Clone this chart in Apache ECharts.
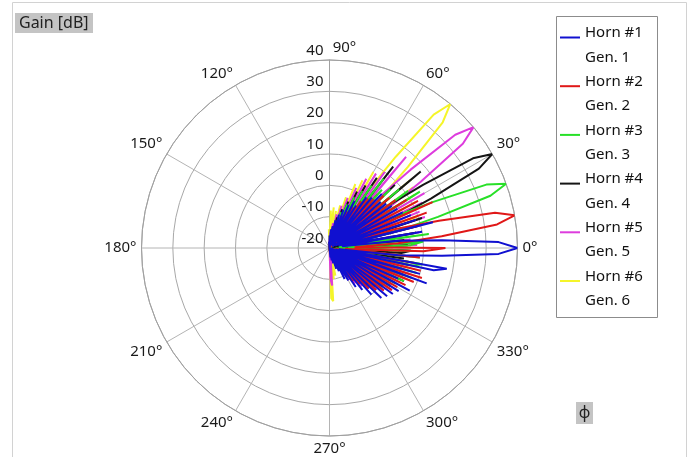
<!DOCTYPE html>
<html>
<head>
<meta charset="utf-8">
<script src="https://cdn.jsdelivr.net/npm/echarts@6/dist/echarts.min.js"></script>
<style>
  html, body { margin: 0; padding: 0; background: #fff; }
  #mainBox { width: 694px; height: 457px; }
</style>
</head>
<body>
<div id="mainBox"></div>
<script>
// 角度 phi (deg)
var phi = [-90, -88, -86, -84, -82, -80, -78, -76, -74, -72,
           -70, -68, -66, -64, -62, -60, -58, -56, -54, -52,
           -50, -48, -46, -44, -42, -40, -38, -36, -34, -32,
           -30, -28, -26, -24, -22, -20, -18, -16, -14, -12,
           -10, -8, -6, -4, -2, 0, 2, 4, 6, 8,
           10, 12, 14, 16, 18, 20, 22, 24, 26, 28,
           30, 32, 34, 36, 38, 40, 42, 44, 46, 48,
           50, 52, 54, 56, 58, 60, 62, 64, 66, 68,
           70, 72, 74, 76, 78, 80, 82, 84, 86, 88,
           90, 92, 94, 96, 98, 100];

// gain [dB] of each horn
var horn1 = [-20, -20, -20, -17, -20, -16, -20, -15, -19, -13,
             -20, -12, -19, -9, -20, -8, -18, -5, -20, -3,
             -19, 0, -17, 3, -20, 4, -16, 5, -19, 6,
             -18, 9, -15, 4, -20, 13, -12, 10, -18, 14,
             18, -17, 2, 16, 34, 40, 34, 16, 2, -16,
             10, -14, 14, -17, 9, -15, 8, -18, 6, -14,
             5, -19, 4, -13, 3, -17, 2, -14, 4, -18,
             1, -15, 0, -19, -4, -13, -3, -18, -5, -16,
             -7, -19, -9, -17, -11, -20, -13, -18, -14, -20,
             -16, -20, -18, -20, -20, -20];
var horn2 = [-20, -20, -19, -20, -18, -20, -17, -20, -16, -19,
             -15, -20, -13, -18, -11, -20, -9, -17, -7, -19,
             -5, -18, -2, -20, 0, -16, 2, -19, 4, -15,
             5, -20, 7, -17, 9, -14, 11, -19, 10, -16,
             8, -18, 9, -15, 10, 17, -12, 2, 16, 34,
             40, 34, 16, 2, -16, 13, -15, 16, -16, 12,
             -17, 9, -14, 6, -19, 5, -15, 4, -18, 1,
             -16, 0, -20, -2, -17, -5, -19, -7, -20, -9,
             -18, -11, -20, -13, -19, -15, -20, -17, -20, -18,
             -20, -19, -20, -20, -20, -20];
var horn3 = [-20, -20, -20, -19, -20, -19, -20, -18, -20, -17,
             -20, -16, -19, -14, -20, -12, -18, -10, -20, -8,
             -19, -6, -17, -4, -20, -1, -16, 1, -19, 3,
             -15, 4, -20, 6, -17, 8, -13, 9, -19, 7,
             10, -16, 9, -18, 7, -14, 6, 10, -17, 12,
             -15, -16, 2, 16, 34, 40, 34, 16, 2, -16,
             -12, 14, -13, 11, -19, 9, -15, 7, -20, 5,
             -17, 8, -19, 4, -16, 1, -20, -2, -18, -5,
             -20, -8, -19, -11, -20, -14, -20, -16, -20, -19,
             -20, -20, -20, -20, -20, -20];
var horn4 = [-20, -20, -20, -20, -19, -20, -19, -20, -19, -17,
             -20, -16, -19, -14, -20, -12, -19, -10, -20, -8,
             -18, -6, -20, -3, -17, -1, -19, 1, -16, 3,
             -20, 4, -15, 6, -18, 5, -14, 4, -19, 6,
             -16, 4, -20, 3, 6, -15, 5, -18, 4, -14,
             8, -17, 9, -13, 11, -19, -10, 2, 16, 34,
             40, 34, 16, 2, -14, 18, -16, 9, -19, 3,
             -14, 13, -18, 7, -20, 3, -17, 0, -20, -4,
             -18, -7, -20, -10, -19, -13, -20, -16, -20, -18,
             -20, -19, -20, -20, -20, -20];
var horn5 = [-20, -10, -8, -16, -20, -15, -20, -16, -20, -17,
             -14, -20, -12, -18, -10, -20, -8, -17, -6, -19,
             -4, -18, -2, -20, 0, -16, 2, -19, 4, -15,
             3, -20, 5, -17, 6, -14, 7, -19, 5, -16,
             2, -18, 6, -15, 7, -20, 8, -14, 6, -19,
             9, -16, 10, -18, 12, -13, 11, -19, 13, -15,
             15, -18, 2, 16, 34, 40, 34, 16, 2, -15,
             18, -15, 10, -19, 8, -14, 5, -20, 1, -17,
             -3, -20, -6, -18, -9, -20, -12, -19, -15, -20,
             -17, -20, -19, -20, -20, -20];
var horn6 = [-20, -4, -3, -15, -10, -20, -11, -18, -14, -20,
             -15, -19, -13, -20, -11, -17, -9, -20, -7, -18,
             -5, -20, -3, -16, -1, -19, 1, -15, 3, -20,
             2, -17, 4, -14, 5, -19, 3, -16, 6, -20,
             1, -15, 5, -18, 6, -14, 7, -20, 5, -17,
             8, -19, 9, -15, 6, 10, -16, 8, -20, 11,
             -17, 12, -14, 13, -19, 14, -15, 2, 16, 34,
             40, 34, 16, 2, -14, 8, -16, 4, -17, 2,
             -19, -3, -16, -6, -20, -8, -18, -7, -14, -8,
             -18, -14, -20, -18, -20, -20];

var hornNames = ['Horn #1', 'Horn #2', 'Horn #3', 'Horn #4', 'Horn #5', 'Horn #6'];
var genNames = ['Gen. 1', 'Gen. 2', 'Gen. 3', 'Gen. 4', 'Gen. 5', 'Gen. 6'];
var colors = ['#1010d0', '#e01818', '#28e028', '#151515', '#dd3cdd', '#f5f52a'];
var gains = [horn1, horn2, horn3, horn4, horn5, horn6];

var FONT = '"Noto Sans", "DejaVu Sans", sans-serif';

var myChart = echarts.init(document.getElementById('mainBox'));

// 每条曲线: [radius, angle]
var series = gains.map(function (g, i) {
    return {
        name: hornNames[i],
        type: 'line',
        coordinateSystem: 'polar',
        symbol: 'none',
        z: 10 - i,
        lineStyle: { color: colors[i], width: 2 },
        data: phi.map(function (a, k) { return [g[k], a]; })
    };
});

// 图例 (自己画的)
var legendItems = [{
    type: 'rect',
    shape: { x: 556.5, y: 16.5, width: 101, height: 301 },
    style: { fill: '#fff', stroke: '#8c8c8c', lineWidth: 1 }
}];
hornNames.forEach(function (name, i) {
    var y0 = 33 + i * 48.7;
    legendItems.push({
        type: 'line',
        shape: { x1: 560, y1: y0 + 4.5, x2: 580, y2: y0 + 4.5 },
        style: { stroke: colors[i], lineWidth: 2 }
    });
    legendItems.push({
        type: 'text', x: 585, y: y0,
        style: { text: name, fill: '#111', font: '15px ' + FONT, verticalAlign: 'middle' }
    });
    legendItems.push({
        type: 'text', x: 585, y: y0 + 24.3,
        style: { text: genNames[i], fill: '#111', font: '15px ' + FONT, verticalAlign: 'middle' }
    });
});

var option = {
    animation: false,
    backgroundColor: '#fff',
    polar: {
        center: [329.5, 248],
        radius: 188
    },
    angleAxis: {
        type: 'value',
        min: -270,
        max: 90,
        interval: 30,
        startAngle: 90,
        clockwise: false,
        axisLine: { lineStyle: { color: '#a0a0a0', width: 1 } },
        axisTick: { show: false },
        splitLine: { lineStyle: { color: '#b4b4b4', width: 1 } },
        axisLabel: {
            margin: 5,
            color: '#1a1a1a',
            fontSize: 15,
            fontFamily: FONT,
            formatter: function (v) {
                var d = ((v % 360) + 360) % 360;
                if (d === 90) return '{s|90°}';
                return d + '°';
            },
            rich: {
                s: { fontSize: 15, fontFamily: FONT, color: '#1a1a1a', padding: [0, 0, 0, 30] }
            }
        }
    },
    radiusAxis: {
        type: 'value',
        min: -20,
        max: 40,
        interval: 10,
        axisLine: { lineStyle: { color: '#a0a0a0', width: 1 } },
        axisTick: { show: false },
        splitLine: { lineStyle: { color: '#a8a8a8', width: 1 } },
        axisLabel: {
            margin: 6,
            color: '#1a1a1a',
            fontSize: 15,
            fontFamily: FONT,
            verticalAlign: 'bottom',
            padding: [0, 0, 2, 0]
        }
    },
    graphic: [
        {
            type: 'rect',
            shape: { x: 12.5, y: 2.5, width: 674, height: 470 },
            style: { fill: 'none', stroke: '#d2d2d2', lineWidth: 1 },
            z: -10
        },
        {
            type: 'rect',
            shape: { x: 15, y: 13, width: 78, height: 20 },
            style: { fill: '#c4c4c4' }
        },
        {
            type: 'text', x: 19, y: 23,
            style: { text: 'Gain [dB]', fill: '#222', font: '16px ' + FONT, verticalAlign: 'middle' }
        },
        {
            type: 'rect',
            shape: { x: 576, y: 402, width: 17, height: 22 },
            style: { fill: '#c4c4c4' }
        },
        {
            type: 'text', x: 584.5, y: 413,
            style: { text: 'ϕ', fill: '#222', font: '16px ' + FONT, align: 'center', verticalAlign: 'middle' }
        },
        {
            type: 'group',
            children: legendItems
        }
    ],
    series: series
};

myChart.setOption(option);
</script>
</body>
</html>
